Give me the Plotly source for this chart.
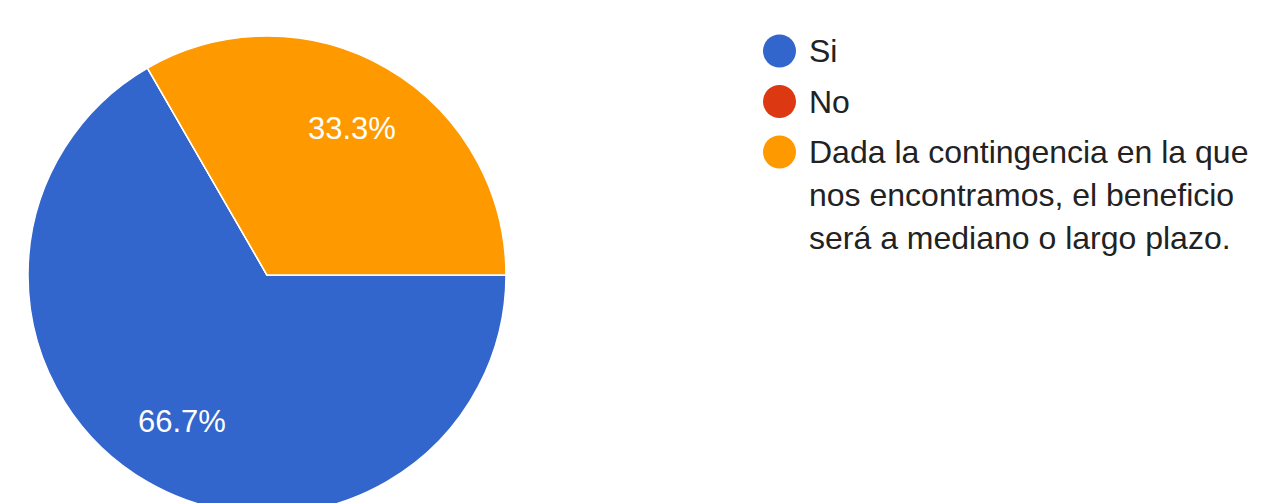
import math
import textwrap
import plotly.graph_objects as go

labels = ["Si", "No", "Dada la contingencia en la que nos encontramos, el beneficio será a mediano o largo plazo."]
values = [2, 0, 1]
colors = ["#3366cc", "#dc3912", "#ff9900"]

W, H = 1267, 560
FONT = "Arial, 'Liberation Sans', sans-serif"
TEXT_COLOR = "#222222"

# pie geometry (pixels)
CX, CY, R = 267, 275, 239
START_DEG = 0  # 3 o'clock, slices go clockwise

fig = go.Figure()
fig.add_trace(go.Pie(
    labels=labels,
    values=values,
    sort=False,
    direction="clockwise",
    rotation=90,
    marker=dict(colors=colors, line=dict(color="white", width=1.5)),
    textinfo="none",
    showlegend=False,
    hoverinfo="label+percent",
    domain=dict(x=[(CX - R) / W, (CX + R) / W], y=[1 - (CY + R) / H, 1 - (CY - R) / H]),
))

annotations = []
total = sum(values)
cum = 0
for v in values:
    if v > 0:
        mid = START_DEG - 360 * (cum + v / 2) / total
        rr = 0.71 * R
        px = CX + rr * math.cos(math.radians(mid))
        py_ = CY - rr * math.sin(math.radians(mid))
        annotations.append(dict(text=f"{100 * v / total:.1f}%", xref="paper", yref="paper",
                                x=px / W, y=1 - py_ / H, xanchor="center", yanchor="middle",
                                showarrow=False, font=dict(family=FONT, size=31, color="white")))
    cum += v

# Custom legend (circles + wrapped text)
shapes = []
py = 51
for lab, col in zip(labels, colors):
    shapes.append(dict(type="circle", xref="paper", yref="paper",
                       x0=763 / W, x1=796 / W, y0=1 - (py + 16.5) / H, y1=1 - (py - 16.5) / H,
                       fillcolor=col, line=dict(width=0)))
    lines = textwrap.wrap(lab, width=30)
    for i, ln in enumerate(lines):
        annotations.append(dict(text=ln, xref="paper", yref="paper",
                                x=807 / W, y=1 - (py + 43 * i) / H,
                                xanchor="left", yanchor="middle", showarrow=False,
                                font=dict(family=FONT, size=32, color=TEXT_COLOR)))
    py += 50.5 + 43 * (len(lines) - 1)

fig.update_layout(
    width=W, height=H,
    margin=dict(l=0, r=0, t=0, b=0),
    paper_bgcolor="white",
    plot_bgcolor="white",
    shapes=shapes,
    annotations=annotations,
)

fig.write_html("out.html", config={"displayModeBar": False},
               post_script="document.body.style.margin='0';document.body.style.overflow='hidden';document.documentElement.style.overflow='hidden';")
